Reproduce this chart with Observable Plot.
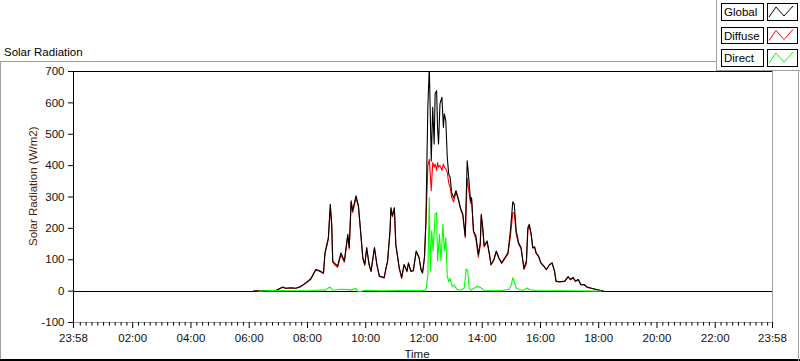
<!DOCTYPE html>
<html>
<head>
<meta charset="utf-8">
<script src="https://cdn.jsdelivr.net/npm/d3@7"></script>
<script src="https://cdn.jsdelivr.net/npm/@observablehq/plot@0.6"></script>
<style>
  html, body { margin: 0; padding: 0; background: #fff; }
  #wrap { position: relative; width: 800px; height: 361px; overflow: hidden; font-family: "Liberation Sans", Arial, sans-serif; }
  #wrap > svg { position: absolute; left: 0; top: 0; }
</style>
</head>
<body>
<div id="wrap"></div>
<script>
// ---------- data ----------
const titleText = "Solar Radiation";
const yLabel = "Solar Radiation (W/m2)";
const xLabel = "Time";
const seriesNames = ["Global", "Diffuse", "Direct"];
const seriesColors = ["#000000", "#ff0000", "#00ff00"];

const yTicks = [-100, 0, 100, 200, 300, 400, 500, 600, 700];
const xTickLabels = ["23:58","02:00","04:00","06:00","08:00","10:00","12:00","14:00","16:00","18:00","20:00","22:00","23:58"];

// Global & Diffuse share sample times
const gdTimes = ["06:09","06:24","06:36","06:55","07:09","07:15","07:26","07:36","07:46","07:57",
"08:07","08:17","08:24","08:33","08:36","08:43","08:47","08:50","08:52","08:55",
"09:02","09:09","09:16","09:23","09:26","09:30","09:33","09:40","09:45","09:50",
"09:54","09:58","10:02","10:07","10:11","10:18","10:23","10:28","10:38","10:42",
"10:45","10:50","10:52","10:55","10:59","11:02","11:09","11:14","11:19","11:25",
"11:28","11:33","11:38","11:44","11:50","11:54","11:57","12:01","12:04","12:08",
"12:11","12:15","12:18","12:21","12:23","12:26","12:28","12:30","12:33","12:37",
"12:40","12:42","12:45","12:48","12:51","12:54","12:57","13:01","13:06","13:11",
"13:15","13:20","13:25","13:29","13:31","13:36","13:38","13:42","13:47","13:52",
"13:56","13:58","14:01","14:04","14:10","14:15","14:18","14:24","14:29","14:34",
"14:40","14:53","14:58","15:03","15:06","15:10","15:15","15:20","15:26","15:31",
"15:34","15:37","15:41","15:44","15:48","15:51","15:56","16:01","16:07","16:12",
"16:19","16:24","16:29","16:32","16:39","16:50","16:57","17:02","17:07","17:12",
"17:18","17:23","17:30","17:36","17:45","17:55","18:09"];

const globalValues = [0,1,2,2,13,9,11,9,15,27,
40,69,66,58,122,170,277,214,96,90,
80,122,96,181,139,288,256,304,272,181,
107,85,139,85,64,139,85,48,43,75,
96,192,266,240,266,149,75,43,85,64,
90,64,66,128,107,69,59,107,224,586,
715,415,586,469,629,639,522,469,597,618,
522,565,543,426,373,362,314,298,320,293,
266,245,176,415,384,288,298,192,176,117,
154,245,203,144,160,117,85,101,128,107,
90,122,192,285,277,192,154,139,72,96,
202,213,181,139,141,122,112,90,80,69,
85,90,64,32,30,32,46,37,44,32,
37,21,21,13,9,5,0];

const diffuseValues = [0,1,2,2,12,9,10,9,14,26,
38,67,64,56,118,165,266,205,93,86,
76,116,92,176,134,283,250,296,270,178,
104,82,136,83,62,137,84,47,42,74,
94,189,262,237,262,147,73,41,83,62,
88,62,64,126,105,67,57,105,215,400,
420,320,410,395,405,385,410,395,400,385,
405,395,390,378,345,330,300,285,315,290,
263,242,170,360,335,280,295,190,165,108,
145,240,200,141,158,115,83,99,126,105,
88,118,175,250,250,182,149,136,69,88,
194,208,178,137,139,120,110,89,79,68,
84,89,63,31,29,31,45,36,43,31,
36,20,20,12,9,5,0];

const directTimes = ["06:20","06:44","07:26","08:07","08:38","08:46","08:52","09:09","09:30","09:40",
"09:44","10:00","10:31","11:13","12:02","12:05","12:08","12:11","12:13","12:16",
"12:19","12:23","12:26","12:28","12:32","12:35","12:39","12:42","12:45","12:48",
"12:51","12:54","12:58","13:02","13:08","13:16","13:23","13:27","13:30","13:33",
"13:37","13:49","13:56","14:04","14:39","14:55","15:00","15:03","15:06","15:10",
"15:16","15:24","15:33","15:37","15:51","16:43","18:05"];
const directValues = [0,2,1,2,4,13,3,6,4,8,
-3,3,1,2,2,10,53,298,64,192,
128,245,250,96,181,96,213,128,170,48,
30,40,15,20,5,3,10,70,65,10,
3,15,12,3,2,5,20,43,30,10,
5,3,10,5,2,1,0];

// ---------- build tables ----------
function toDate(s, dayOffset = 0) {
  const [h, m] = s.split(":").map(Number);
  return new Date(Date.UTC(2020, 0, 1 + dayOffset, h, m));
}
const globalData = gdTimes.map((t, i) => ({time: toDate(t), value: globalValues[i]}));
const diffuseData = gdTimes.map((t, i) => ({time: toDate(t), value: diffuseValues[i]}));
const directData = directTimes.map((t, i) => ({time: toDate(t), value: directValues[i]}));

const majorTicks = xTickLabels.map((s, i) => i === 0 ? toDate(s, -1) : toDate(s));
const xStart = majorTicks[0], xEnd = majorTicks[majorTicks.length - 1];
const minorTicks = d3.utcMinute.every(12).range(toDate("00:00"), xEnd).filter(d => d.getUTCMinutes() % 60 !== 0 || d.getUTCHours() % 2 !== 0);

const W = 800, H = 361;
const mL = 73, mR = 28, mT = 71, mB = 39;

const lineOpts = {x: "time", y: "value", strokeWidth: 1.1, clip: true};

const chart = Plot.plot({
  width: W, height: H,
  marginLeft: mL, marginRight: mR, marginTop: mT, marginBottom: mB,
  style: {fontFamily: '"Liberation Sans", Arial, sans-serif', fontSize: "11.5px", background: "transparent", color: "#111", overflow: "visible"},
  x: {type: "utc", domain: [xStart, xEnd]},
  y: {domain: [-100, 700]},
  marks: [
    Plot.ruleY([0], {stroke: "#000", strokeWidth: 1, shapeRendering: "crispEdges"}),
    Plot.line(diffuseData, {...lineOpts, stroke: seriesColors[1]}),
    Plot.line(globalData, {...lineOpts, stroke: seriesColors[0]}),
    Plot.line(directData, {...lineOpts, stroke: seriesColors[2]}),
    Plot.ruleY([-100], {stroke: "#a0a0a0", shapeRendering: "crispEdges"}),
    Plot.ruleX([xEnd], {stroke: "#a0a0a0", shapeRendering: "crispEdges"}),
    Plot.ruleY([700], {stroke: "#000", shapeRendering: "crispEdges"}),
    Plot.ruleX([xStart], {stroke: "#000", shapeRendering: "crispEdges"}),
    Plot.axisY({ticks: yTicks, tickSize: 5, tickPadding: 4, label: null, stroke: "#000", tickFormat: d => String(d)}),
    Plot.axisX({ticks: majorTicks, tickSize: 6, tickPadding: 5, label: null, stroke: "#000", tickFormat: d3.utcFormat("%H:%M")}),
    Plot.axisX({ticks: minorTicks, tickSize: 3.5, tickPadding: 0, label: null, stroke: "#000", tickFormat: () => ""})
  ]
});
document.getElementById("wrap").appendChild(chart);

// ---------- decorations: panel borders, title, axis names, legend ----------
const ns = "http://www.w3.org/2000/svg";
const ov = document.createElementNS(ns, "svg");
ov.setAttribute("width", W); ov.setAttribute("height", H);
ov.setAttribute("style", 'font-family:"Liberation Sans", Arial, sans-serif;font-size:11.5px;pointer-events:none');
function el(tag, attrs, text) {
  const e = document.createElementNS(ns, tag);
  for (const k in attrs) e.setAttribute(k, attrs[k]);
  if (text != null) e.textContent = text;
  ov.appendChild(e);
  return e;
}
// panel borders
el("rect", {x: 0, y: 61, width: 717, height: 1, fill: "#a0a0a0"});
el("rect", {x: 0, y: 61, width: 1, height: 300, fill: "#a0a0a0"});
el("rect", {x: 0, y: 359, width: 800, height: 2, fill: "#000"});
el("rect", {x: 798, y: 71, width: 1, height: 290, fill: "#a0a0a0"});
// title
el("text", {x: 4, y: 55.5, fill: "#000"}, titleText);
// y axis name
el("text", {transform: "translate(36.5,246) rotate(-90)", fill: "#4a2208", "text-anchor": "start"}, yLabel);
// x axis name
el("text", {x: 417, y: 358, fill: "#111", "text-anchor": "middle"}, xLabel);
// legend panel
el("rect", {x: 717, y: 0, width: 83, height: 71, fill: "#fff"});
el("rect", {x: 716.5, y: -1, width: 90, height: 71.5, fill: "none", stroke: "#a0a0a0", "shape-rendering": "crispEdges"});
const rowTop = [3, 26.5, 49];
seriesNames.forEach((name, i) => {
  const y0 = rowTop[i];
  el("rect", {x: 721.5, y: y0 + 0.5, width: 41.5, height: 16.5, fill: "#fff", stroke: "#000", "shape-rendering": "crispEdges"});
  el("text", {x: 724, y: y0 + 13, fill: "#000"}, name);
  el("rect", {x: 767.5, y: y0 + 0.5, width: 30, height: 16.5, fill: "#fff", stroke: "#000", "shape-rendering": "crispEdges"});
  el("polyline", {points: `${769},${y0+14} ${776},${y0+4} ${784},${y0+13} ${793},${y0+3}`, fill: "none", stroke: seriesColors[i], "stroke-width": 1});
});
document.getElementById("wrap").appendChild(ov);
</script>
</body>
</html>
